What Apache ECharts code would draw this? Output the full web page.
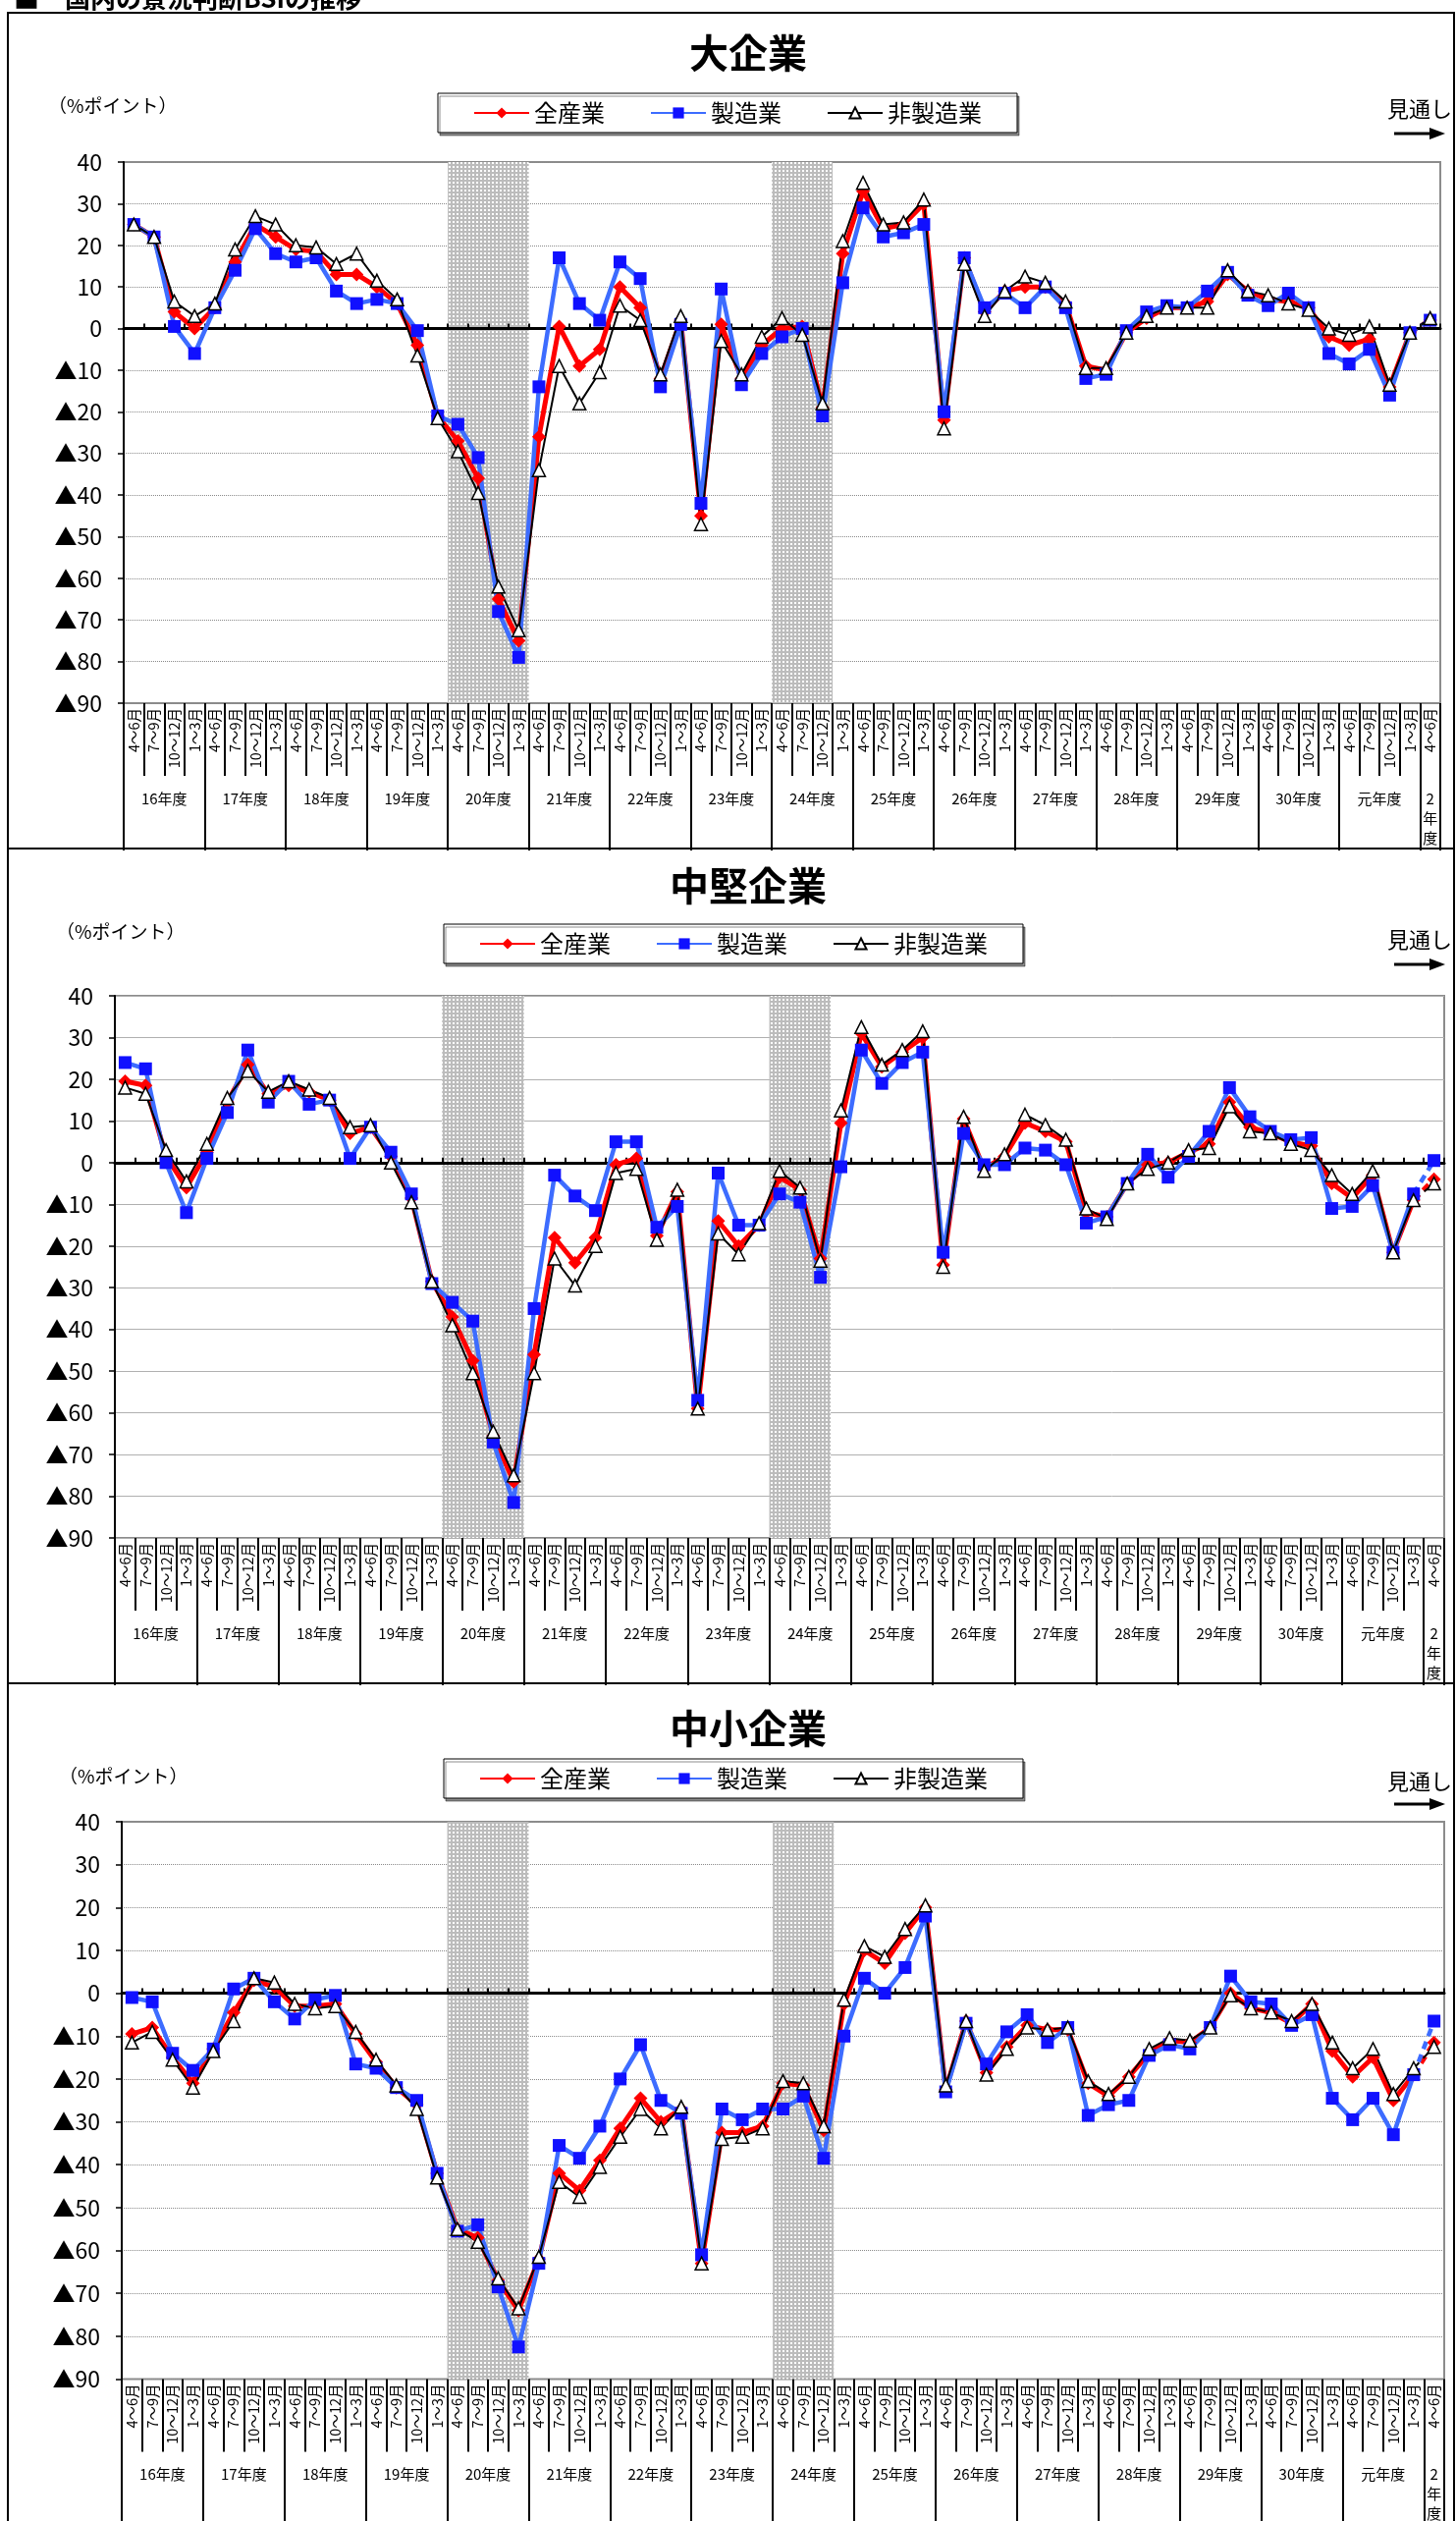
<!DOCTYPE html>
<html>
<head>
<meta charset="utf-8">
<script src="https://cdn.jsdelivr.net/npm/echarts@6/dist/echarts.min.js"></script>
<style>
  html, body { margin: 0; padding: 0; background: #fff; }
  #main { width: 1483px; height: 2567px; }
</style>
</head>
<body>
<div id="main"></div>
<script>
// 四半期ラベルと年度
const quarterNames = ['4～6月', '7～9月', '10～12月', '1～3月'];
const fiscalYears = ['16年度', '17年度', '18年度', '19年度', '20年度', '21年度', '22年度', '23年度',
  '24年度', '25年度', '26年度', '27年度', '28年度', '29年度', '30年度', '元年度', '2年度'];
const seriesNames = ['全産業', '製造業', '非製造業'];
const yMin = -90, yMax = 40, yStep = 10;
// 網掛け期間 (四半期 index の始点と終点)
const shadedPeriods = [[16, 20], [32, 35]];

// 大企業
const largeAll = [25, 22, 4, 0, 5, 16, 25, 22, 19, 18.5, 13, 13, 10, 6, -4, -21, -27, -36, -65, -75,
  -26, 0.5, -9, -5, 10, 5, -12, 2, -45, 1, -12, -4, 0, 0.5, -19, 18, 33, 24, 25, 30,
  -22, 17, 4, 9, 10, 10, 6, -9, -10, -1, 2.5, 5, 5, 6.5, 13, 9, 7, 6.5, 5, -2,
  -4, -2.5, -14, -1, 2];
const largeMfg = [25, 22, 0.5, -6, 5, 14, 24, 18, 16, 17, 9, 6, 7, 6, -0.5, -21, -23, -31, -68, -79,
  -14, 17, 6, 2, 16, 12, -14, 1, -42, 9.5, -13.5, -6, -2, 0, -21, 11, 29, 22, 23, 25,
  -20, 17, 5, 8.5, 5, 10, 5, -12, -11, -0.5, 4, 5.5, 5, 9, 13.5, 8, 5.5, 8.5, 5, -6,
  -8.5, -5, -16, -1, 2];
const largeNonMfg = [25, 22, 6.5, 3, 6, 19, 27, 25, 20, 19.5, 15.5, 18, 11.5, 7, -6.5, -21.5, -29.5, -39.5, -62, -72.5,
  -34, -9, -18, -10.5, 5.5, 2, -11, 3, -47, -3, -11, -2, 2.5, -1.5, -18, 21, 35, 25, 25.5, 31,
  -24, 15.5, 3, 9, 12.5, 11, 6.5, -9.5, -9.5, -1, 3, 5, 5, 5, 14, 9, 8, 6, 4.5, 0,
  -1.5, 0.5, -13.5, -1, 2.5];

// 中堅企業
const midAll = [19.5, 18.5, 1.5, -6, 2.5, 14.5, 23.5, 16.5, 18.5, 17, 15, 7, 8.5, 1.5, -8.5, -28.5, -37, -47.5, -65.5, -76.5,
  -46, -18, -24, -18, -0.5, 1, -17.5, -7, -59, -14, -20, -15, -3.5, -6.5, -23, 9.5, 31, 23, 26.5, 30,
  -24.5, 10.5, -1.5, 1.5, 9.5, 7.5, 5, -12, -13, -5, -0.5, 0, 2.5, 4.5, 14.5, 8.5, 7, 5, 4, -5,
  -8.5, -3, -21.5, -9, -4];
const midMfg = [24, 22.5, 0, -12, 1, 12, 27, 14.5, 19.5, 14, 15, 1, 8.5, 2.5, -7.5, -29, -33.5, -38, -67, -81.5,
  -35, -3, -8, -11.5, 5, 5, -15.5, -10.5, -57, -2.5, -15, -15, -7.5, -9.5, -27.5, -1, 27, 19, 24, 26.5,
  -21.5, 7, -0.5, -0.5, 3.5, 3, -0.5, -14.5, -13, -5, 2, -3.5, 1.5, 7.5, 18, 11, 7.5, 5.5, 6, -11,
  -10.5, -5.5, -21.5, -7.5, 0.5];
const midNonMfg = [18, 16.5, 3, -4.5, 4.5, 15.5, 22, 17, 19.5, 17.5, 15.5, 8.5, 9, 0, -9.5, -28.5, -39, -50.5, -64.5, -75,
  -50.5, -23, -29.5, -20, -2.5, -1.5, -18.5, -6.5, -59, -17, -22, -14.5, -2, -6, -23.5, 12.5, 32.5, 23.5, 27, 31.5,
  -25, 11, -2, 2, 11.5, 9, 5.5, -11, -13.5, -5, -1.5, 0, 3, 3.5, 13.5, 7.5, 7, 4.5, 3, -3,
  -7.5, -2, -21.5, -9, -5];

// 中小企業
const smallAll = [-9.5, -8, -15, -21, -13, -4.5, 3, 1.5, -3, -3, -2.5, -9.5, -16, -22, -26, -42, -55, -57, -67, -74,
  -62, -42, -46, -39, -31.5, -24.5, -30, -27, -63, -32.5, -32.5, -31, -21, -21.5, -32, -2.5, 10, 7, 14, 20,
  -22.5, -6.5, -18.5, -12.5, -7.5, -8.5, -8.5, -21, -24, -19.5, -14, -11, -11.5, -8, 0, -3.5, -4.5, -7, -2.5, -13.5,
  -19.5, -15, -25, -19, -11.5];
const smallMfg = [-1, -2, -14, -18, -13, 1, 3.5, -2, -6, -1.5, -0.5, -16.5, -17.5, -22, -25, -42, -55.5, -54, -68.5, -82.5,
  -63, -35.5, -38.5, -31, -20, -12, -25, -28, -61, -27, -29.5, -27, -27, -24, -38.5, -10, 3.5, 0, 6, 18,
  -23, -7, -16.5, -9, -5, -11.5, -8, -28.5, -26, -25, -14.5, -12, -13, -8, 4, -2, -2.5, -7.5, -5, -24.5,
  -29.5, -24.5, -33, -19, -6.5];
const smallNonMfg = [-11.5, -9, -15.5, -22, -13.5, -6.5, 3.5, 2.5, -2.5, -3.5, -3, -9, -15.5, -21.5, -27, -43, -55, -58, -66.5, -73.5,
  -61.5, -44, -47.5, -40.5, -33.5, -27, -31.5, -26.5, -63, -34, -33.5, -31.5, -20.5, -21, -31, -1.5, 11, 8.5, 15, 20.5,
  -21.5, -6.5, -19, -13, -8, -8.5, -8, -20.5, -23.5, -19.5, -13, -10.5, -11, -8, -0.5, -3.5, -4.5, -6.5, -2.5, -11.5,
  -17.5, -13, -23.5, -17.5, -12.5];

// x軸カテゴリ (16年度4～6月 ～ 2年度4～6月)
const categories = [];
const categoryYears = [];
fiscalYears.forEach(function (fy, k) {
  const n = k === fiscalYears.length - 1 ? 1 : 4;
  for (let q = 0; q < n; q++) {
    categories.push(quarterNames[q]);
    categoryYears.push(fy);
  }
});
const lastIdx = categories.length - 1;

const font = "'Noto Sans CJK JP', 'Noto Sans', sans-serif";

// パネルのレイアウト
const panels = [
  { title: '大企業', data: [largeAll, largeMfg, largeNonMfg], top: 13, bottom: 864,
    grid: { left: 126, top: 165, width: 1341, height: 551 }, legend: { left: 446, top: 95 },
    titleY: 54, unitX: 49, unitY: 108, noteY: 111, arrowY: 136, splitType: 'dotted', splitColor: '#8a8a8a' },
  { title: '中堅企業', data: [midAll, midMfg, midNonMfg], top: 864, bottom: 1714,
    grid: { left: 117, top: 1014, width: 1354, height: 552 }, legend: { left: 452, top: 941 },
    titleY: 902, unitX: 57, unitY: 949, noteY: 957, arrowY: 982, splitType: 'solid', splitColor: '#b0b0b0' },
  { title: '中小企業', data: [smallAll, smallMfg, smallNonMfg], top: 1714, bottom: 2600,
    grid: { left: 124, top: 1855, width: 1347, height: 568 }, legend: { left: 452, top: 1791 },
    titleY: 1760, unitX: 60, unitY: 1809, noteY: 1814, arrowY: 1837, splitType: 'dotted', splitColor: '#8a8a8a' }
];

// 網掛けパターン
const pat = document.createElement('canvas');
pat.width = 4; pat.height = 4;
const pctx = pat.getContext('2d');
pctx.fillStyle = '#bcbcbc';
pctx.fillRect(0, 0, 4, 4);
pctx.fillStyle = '#ffffff';
pctx.fillRect(1, 1, 2, 2);

const styles = [
  { symbol: 'diamond', symbolSize: 14, line: '#ff0000', fill: '#ff0000', border: '#ff0000', width: 5 },
  { symbol: 'rect', symbolSize: 13, line: '#3d6cff', fill: '#1010ff', border: '#1010ff', width: 4.5 },
  { symbol: 'triangle', symbolSize: 13, line: '#000000', fill: '#ffffff', border: '#000000', width: 2 }
];

const grids = [], xAxes = [], yAxes = [], series = [], legends = [], graphics = [];

panels.forEach(function (p, g) {
  const bandW = p.grid.width / categories.length;
  grids.push(Object.assign({ show: true, borderColor: '#8c8c8c', borderWidth: 2, backgroundColor: 'transparent' }, p.grid));

  // 四半期ラベル
  xAxes.push({
    type: 'category', gridIndex: g, data: categories, position: 'bottom', boundaryGap: true,
    axisLine: { show: false, onZero: false },
    axisTick: { show: true, interval: 0, length: 74, lineStyle: { color: '#000', width: 2 } },
    axisLabel: { interval: 0, rotate: 90, margin: 5, fontSize: 14.5, color: '#000', fontFamily: font },
    splitLine: { show: false }
  });
  // 年度ラベル
  xAxes.push({
    type: 'category', gridIndex: g, data: categoryYears, position: 'bottom', boundaryGap: true,
    axisLine: { show: false, onZero: false },
    axisTick: { show: true, interval: function (i) { return i % 4 === 0; }, length: 150,
      lineStyle: { color: '#000', width: 2 } },
    axisLabel: {
      interval: function (i) { return i % 4 === 1 || i === lastIdx; },
      margin: 87, fontSize: 15, color: '#000', fontFamily: font,
      formatter: function (val, i) {
        if (i === lastIdx) {
          return val.split('').map(function (c) { return '{v|' + c + '}'; }).join('\n');
        }
        return '{y|' + val + '}';
      },
      rich: {
        y: { fontSize: 15, lineHeight: 20, padding: [0, 0, 0, bandW], fontFamily: font, color: '#000' },
        v: { fontSize: 15, lineHeight: 20, fontFamily: font, color: '#000' }
      }
    },
    splitLine: { show: false }
  });
  // ゼロ線
  xAxes.push({
    type: 'category', gridIndex: g, data: categories, position: 'bottom', boundaryGap: true, z: 1.5,
    axisLine: { show: true, onZero: true, lineStyle: { color: '#000', width: 3 } },
    axisTick: { show: true, inside: true, interval: 0, length: 5, lineStyle: { color: '#000', width: 2 } },
    axisLabel: { show: false },
    splitLine: { show: false }
  });
  // 網掛け用
  xAxes.push({
    type: 'value', gridIndex: g, min: 0, max: categories.length, show: false,
    axisLine: { onZero: false }
  });

  yAxes.push({
    type: 'value', gridIndex: g, min: yMin, max: yMax, interval: yStep,
    axisLine: { show: true, onZero: false, lineStyle: { color: '#000', width: 2 } },
    axisTick: { show: true, length: 6, lineStyle: { color: '#000', width: 1.5 } },
    axisLabel: {
      margin: 22, fontSize: 23, color: '#000', fontFamily: font,
      formatter: function (v) { return v < 0 ? '▲' + (-v) : String(v); }
    },
    splitLine: { show: true, lineStyle: { type: p.splitType, color: p.splitColor, width: 1 } }
  });

  series.push({
    type: 'line', name: 'shade', xAxisIndex: 4 * g + 3, yAxisIndex: g, data: [], silent: true,
    markArea: {
      silent: true,
      itemStyle: { color: { image: pat, repeat: 'repeat' } },
      data: shadedPeriods.map(function (s) { return [{ xAxis: s[0] }, { xAxis: s[1] }]; })
    }
  });

  p.data.forEach(function (values, k) {
    const st = styles[k];
    const common = {
      type: 'line', xAxisIndex: 4 * g, yAxisIndex: g,
      symbol: st.symbol, symbolSize: st.symbolSize, showSymbol: true,
      lineStyle: { color: st.line, width: st.width },
      itemStyle: { color: st.fill, borderColor: st.border, borderWidth: k === 2 ? 1.5 : 0 },
      emphasis: { disabled: true }
    };
    // 実績 (実線)
    series.push(Object.assign({}, common, {
      name: seriesNames[k],
      data: values.map(function (v, i) { return i < lastIdx ? v : null; })
    }));
    // 見通し (破線)
    series.push(Object.assign({}, common, {
      name: seriesNames[k] + '見通し',
      lineStyle: { color: st.line, width: st.width, type: [8, 6] },
      data: values.map(function (v, i) {
        if (i === lastIdx - 1) return { value: v, symbol: 'none' };
        return i === lastIdx ? v : null;
      })
    }));
  });

  legends.push({
    left: p.legend.left, top: p.legend.top, orient: 'horizontal',
    data: seriesNames, selectedMode: false,
    padding: [8, 36, 8, 36], itemGap: 46, itemWidth: 56, itemHeight: 14,
    backgroundColor: '#fff', borderColor: '#000', borderWidth: 1,
    shadowColor: 'rgba(0,0,0,0.45)', shadowOffsetX: 2, shadowOffsetY: 3,
    textStyle: { fontSize: 24, color: '#000', fontFamily: font }
  });

  // 枠と見出し
  graphics.push({
    type: 'rect', silent: true, z: 10,
    shape: { x: 8, y: p.top, width: 1473, height: p.bottom - p.top },
    style: { fill: 'none', stroke: '#000', lineWidth: 2 }
  });
  graphics.push({
    type: 'text', x: 762, y: p.titleY, silent: true,
    style: { text: p.title, fontSize: 40, fontWeight: 'bold', fontFamily: font, fill: '#000', align: 'center', verticalAlign: 'middle' }
  });
  graphics.push({
    type: 'text', x: p.unitX, y: p.unitY, silent: true,
    style: { text: '（%ポイント）', fontSize: 19, fontFamily: font, fill: '#000', align: 'left', verticalAlign: 'middle' }
  });
  graphics.push({
    type: 'text', x: 1446, y: p.noteY, silent: true,
    style: { text: '見通し', fontSize: 22, fontFamily: font, fill: '#000', align: 'center', verticalAlign: 'middle' }
  });
  graphics.push({
    type: 'line', silent: true,
    shape: { x1: 1420, y1: p.arrowY, x2: 1460, y2: p.arrowY },
    style: { stroke: '#000', lineWidth: 3 }
  });
  graphics.push({
    type: 'polygon', silent: true,
    shape: { points: [[1456, p.arrowY - 6], [1472, p.arrowY], [1456, p.arrowY + 6]] },
    style: { fill: '#000' }
  });
});

// 上端の見出し (切れている)
graphics.push({
  type: 'text', x: 14, y: -2, silent: true,
  style: { text: '■　国内の景況判断BSIの推移', fontSize: 26, fontWeight: 'bold', fontFamily: font, fill: '#000', align: 'left', verticalAlign: 'middle' }
});

const chart = echarts.init(document.getElementById('main'), null, { renderer: 'canvas', width: 1483, height: 2567 });
chart.setOption({
  backgroundColor: '#fff',
  animation: false,
  grid: grids,
  xAxis: xAxes,
  yAxis: yAxes,
  legend: legends,
  series: series,
  graphic: graphics
});
</script>
</body>
</html>
